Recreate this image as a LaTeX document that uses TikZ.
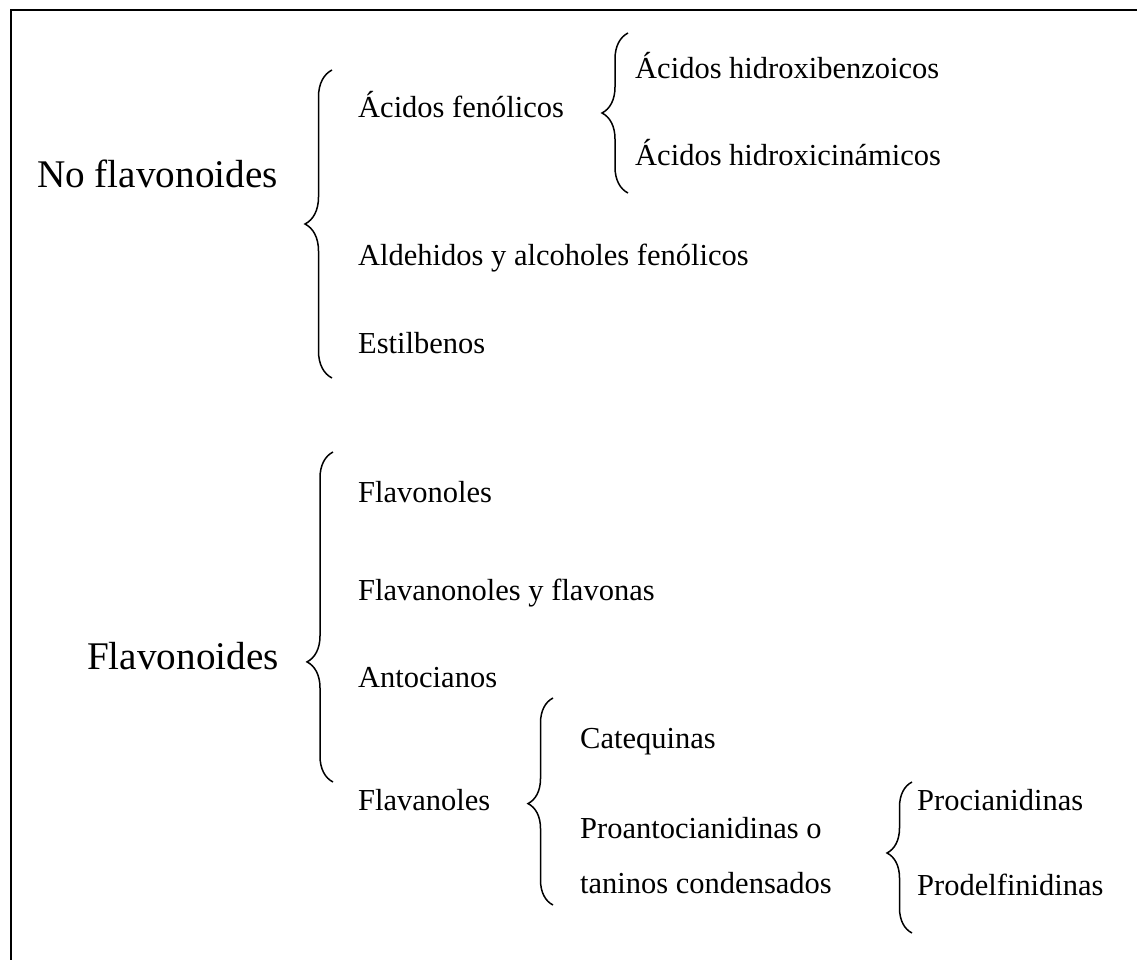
\documentclass[tikz,border=0pt]{standalone}
\usepackage{fontspec}
\setmainfont{Liberation Serif}
\usetikzlibrary{decorations.pathreplacing}

\tikzset{
  item/.style={anchor=base west, inner sep=0pt,
    font=\fontsize{30.5}{36}\selectfont},
  head/.style={anchor=base west, inner sep=0pt,
    font=\fontsize{39.2}{45}\selectfont},
  curly/.style={draw=black, line width=1.5pt,
    decorate, decoration={brace, amplitude=#1}},
  curly/.default=26pt,
  frameline/.style={draw=black, line width=2.4pt}
}

\begin{document}
\begin{tikzpicture}[x=1pt, y=-1pt]
  \useasboundingbox (0,0) rectangle (1137,959);

  % open frame: top and left edges
  \coordinate (frameA) at (11,10);
  \coordinate (frameB) at (1140,10);
  \coordinate (frameC) at (11,962);
  \draw[frameline] (frameB) -- (frameA) -- (frameC);

  % ---------- No flavonoides ----------
  \node[head] (noflav) at (37,187) {No flavonoides};

  \coordinate (b1bot) at (332,378);
  \coordinate (b1top) at (332,70);
  \draw[curly=27pt] (b1bot) -- (b1top);

  \node[item] (acfen) at (358,117) {Ácidos fenólicos};

  \coordinate (b2bot) at (628,193);
  \coordinate (b2top) at (628,33);
  \draw[curly=26pt] (b2bot) -- (b2top);

  \node[item] (acbenz) at (635,78) {Ácidos hidroxibenzoicos};
  \node[item] (accin) at (635,165) {Ácidos hidroxicinámicos};

  \node[item] (aldeh) at (358,265) {Aldehidos y alcoholes fenólicos};
  \node[item] (estil) at (358,353) {Estilbenos};

  % ---------- Flavonoides ----------
  \node[head] (flav) at (87,669) {Flavonoides};

  \coordinate (b3bot) at (333,782);
  \coordinate (b3top) at (333,452);
  \draw[curly=26pt, decoration={aspect=0.364}] (b3bot) -- (b3top);

  \node[item] (flavonoles) at (358,502) {Flavonoles};
  \node[item] (flavanon) at (358,600) {Flavanonoles y flavonas};
  \node[item] (antoc) at (358,687) {Antocianos};
  \node[item] (flavanoles) at (358,810) {Flavanoles};

  \coordinate (b4bot) at (553,905);
  \coordinate (b4top) at (553,698);
  \draw[curly=25pt, decoration={aspect=0.49}] (b4bot) -- (b4top);

  \node[item] (catequ) at (580,748) {Catequinas};
  \node[item] (proant) at (580,838) {Proantocianidinas o};
  \node[item] (tanin) at (580,893) {taninos condensados};

  \coordinate (b5bot) at (912,933);
  \coordinate (b5top) at (912,782);
  \draw[curly=25pt, decoration={aspect=0.53}] (b5bot) -- (b5top);

  \node[item] (procian) at (917,810) {Procianidinas};
  \node[item] (prodelf) at (917,895) {Prodelfinidinas};
\end{tikzpicture}
\end{document}
